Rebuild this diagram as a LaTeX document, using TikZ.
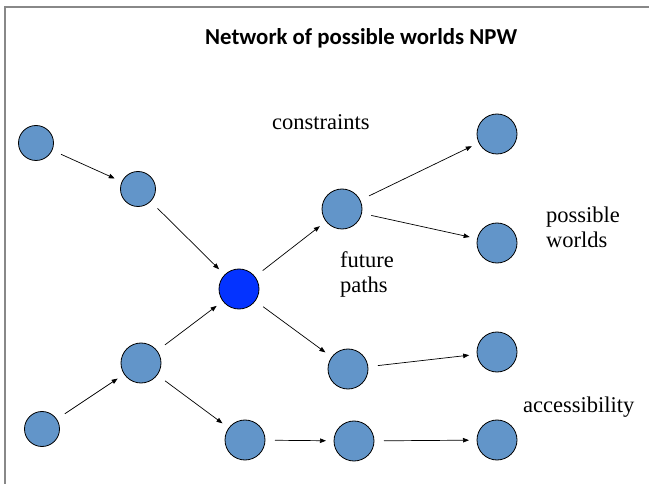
\documentclass[tikz,border=0pt]{standalone}
\usepackage{fontspec}
\setmainfont{Liberation Serif}
\newfontfamily\titlefont{Carlito}
\usetikzlibrary{arrows.meta}
\definecolor{world}{RGB}{98,149,201}
\definecolor{now}{RGB}{4,51,255}
\definecolor{frame}{RGB}{136,136,136}
\begin{document}
\begin{tikzpicture}[x=1pt,y=-1pt,
  world/.style={circle,draw=black,line width=0.8pt,fill=world,minimum size=40pt,inner sep=0pt,outer sep=0pt},
  small/.style={world,minimum size=35pt},
  current/.style={world,fill=now},
  link/.style={-{Triangle[length=6pt,width=4.5pt]},line width=0.7pt,shorten <=10pt,shorten >=8pt},
  lbl/.style={anchor=base west,inner sep=0pt,font=\fontsize{22.5}{25.5}\selectfont,align=left}]
\useasboundingbox (0,0) rectangle (649,484);
\draw[frame,line width=2pt] (4.5,484) -- (4.5,7) -- (649,7);
\node[anchor=base west,inner sep=0pt,font=\titlefont\bfseries\fontsize{22.8}{26}\selectfont] (title) at (205,45) {Network of possible worlds NPW};
% worlds
\node[small] (A) at (36,143) {};
\node[small] (B) at (138,189) {};
\node[current] (C) at (239,289) {};
\node[world] (D) at (342,209) {};
\node[world] (E) at (497,134) {};
\node[world] (F) at (497,243) {};
\node[world] (G) at (141,363) {};
\node[small] (H) at (42,429) {};
\node[world] (I) at (245,440) {};
\node[world] (J) at (354,441) {};
\node[world] (K) at (497,440) {};
\node[world] (L) at (348,369) {};
\node[world] (M) at (497,352) {};
% connectors
\draw[link] (A) -- (B);
\draw[link] (B) -- (C);
\draw[link] (H) -- (G);
\draw[link] (G) -- (C);
\draw[link] (G) -- (I);
\draw[link] (C) -- (D);
\draw[link] (C) -- (L);
\draw[link] (D) -- (E);
\draw[link] (D) -- (F);
\draw[link] (L) -- (M);
\draw[link] (I) -- (J);
\draw[link] (J) -- (K);
% labels
\node[lbl] (t1) at (272,130) {constraints};
\node[lbl] (t2) at (546,248) {possible\\worlds};
\node[lbl] (t3) at (340,293) {future\\paths};
\node[lbl] (t4) at (523,412) {accessibility};
\end{tikzpicture}
\end{document}
